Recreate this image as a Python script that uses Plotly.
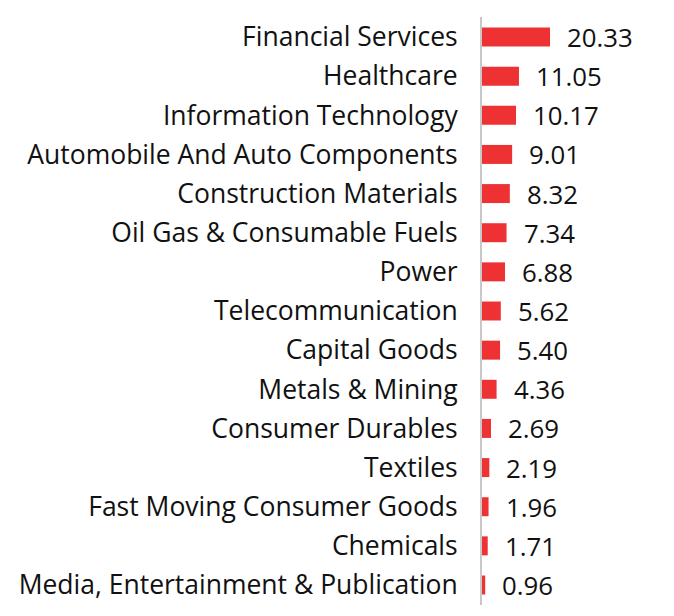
import plotly.graph_objects as go

sectors = [
    "Financial Services", "Healthcare", "Information Technology",
    "Automobile And Auto Components", "Construction Materials",
    "Oil Gas & Consumable Fuels", "Power", "Telecommunication",
    "Capital Goods", "Metals & Mining", "Consumer Durables", "Textiles",
    "Fast Moving Consumer Goods", "Chemicals",
    "Media, Entertainment & Publication",
]
weights = [20.33, 11.05, 10.17, 9.01, 8.32, 7.34, 6.88, 5.62, 5.40, 4.36,
           2.69, 2.19, 1.96, 1.71, 0.96]

FONT = "Open Sans"
FS = 26.5
fig = go.Figure(go.Bar(
    x=weights, y=sectors, orientation="h",
    marker=dict(color="#ee3233", line=dict(width=0)),
    hoverinfo="skip",
))
for s, v in zip(sectors, weights):
    fig.add_annotation(x=v, y=s, text=f"{v:.2f}", showarrow=False,
                       xanchor="left", xshift=15,
                       font=dict(family=FONT, size=25.8, color="#111111"))

# page body adds an 8px offset; compensate in margins
fig.update_layout(
    width=666, height=608,
    margin=dict(l=474, r=0, t=9, b=11),
    paper_bgcolor="white", plot_bgcolor="white",
    bargap=0.515, showlegend=False,
    font=dict(family=FONT, size=FS, color="#111111"),
)
fig.update_xaxes(range=[0, 57.4], visible=False, fixedrange=True)
fig.update_yaxes(autorange="reversed", showgrid=False, zeroline=False,
                 showline=True, linecolor="#c8c8c8", linewidth=2,
                 ticks="", ticklabelstandoff=17,
                 tickfont=dict(family=FONT, size=FS, color="#111111"))
fig.write_html("out.html")
